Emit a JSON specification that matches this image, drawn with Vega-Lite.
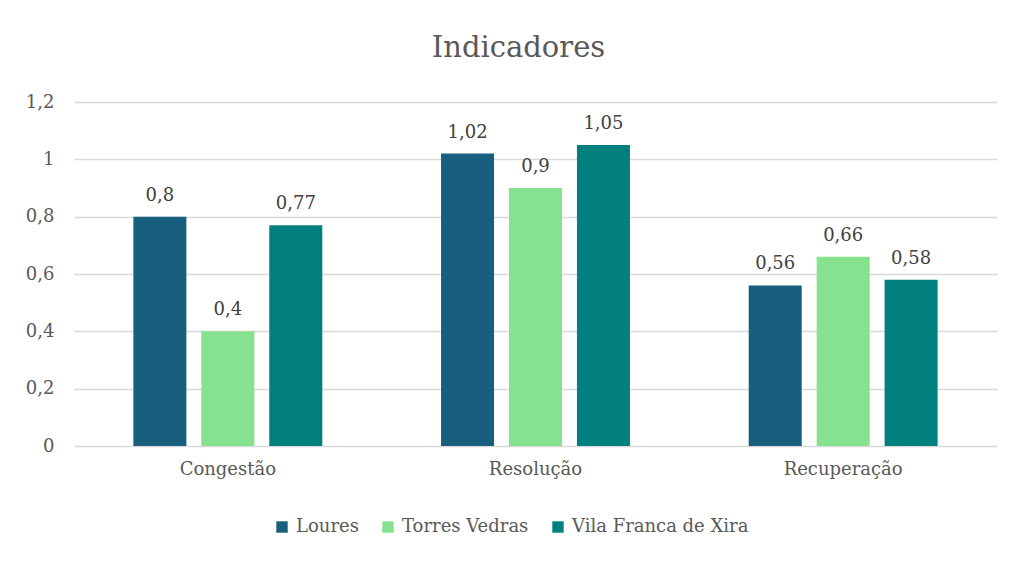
{
  "$schema": "https://vega.github.io/schema/vega-lite/v6.json",
  "width": 923,
  "height": 344,
  "autosize": "none",
  "padding": {"left": 74, "top": 102, "right": 16, "bottom": 115},
  "background": "white",
  "config": {
    "locale": {"number": {"decimal": ",", "thousands": ".", "grouping": [3], "currency": ["", " €"]}},
    "font": "DejaVu Serif",
    "view": {"stroke": null}
  },
  "title": {
    "text": "Indicadores",
    "fontSize": 29,
    "font": "DejaVu Serif",
    "fontWeight": "normal",
    "color": "#595959",
    "anchor": "middle",
    "dx": -17,
    "offset": 30
  },
  "data": {
    "values": [
      {"indicador": "Congestão", "local": "Loures", "valor": 0.8},
      {"indicador": "Congestão", "local": "Torres Vedras", "valor": 0.4},
      {"indicador": "Congestão", "local": "Vila Franca de Xira", "valor": 0.77},
      {"indicador": "Resolução", "local": "Loures", "valor": 1.02},
      {"indicador": "Resolução", "local": "Torres Vedras", "valor": 0.9},
      {"indicador": "Resolução", "local": "Vila Franca de Xira", "valor": 1.05},
      {"indicador": "Recuperação", "local": "Loures", "valor": 0.56},
      {"indicador": "Recuperação", "local": "Torres Vedras", "valor": 0.66},
      {"indicador": "Recuperação", "local": "Vila Franca de Xira", "valor": 0.58}
    ]
  },
  "encoding": {
    "x": {
      "field": "indicador",
      "type": "nominal",
      "sort": ["Congestão", "Resolução", "Recuperação"],
      "scale": {"paddingInner": 0.386, "paddingOuter": 0.193},
      "axis": {
        "title": null,
        "labelAngle": 0,
        "labelFontSize": 18,
        "labelColor": "#595959",
        "labelFont": "DejaVu Serif",
        "labelPadding": 14,
        "labelLimit": 0,
        "ticks": false,
        "domain": false
      }
    },
    "xOffset": {
      "field": "local",
      "type": "nominal",
      "sort": ["Loures", "Torres Vedras", "Vila Franca de Xira"],
      "scale": {"paddingInner": 0.22, "paddingOuter": 0}
    },
    "y": {
      "field": "valor",
      "type": "quantitative",
      "scale": {"domain": [0, 1.2], "nice": false},
      "axis": {
        "title": null,
        "values": [0, 0.2, 0.4, 0.6, 0.8, 1, 1.2],
        "format": "~g",
        "labelFontSize": 18,
        "labelColor": "#595959",
        "labelFont": "DejaVu Serif",
        "labelPadding": 20,
        "ticks": false,
        "domain": false,
        "gridColor": "#d9d9d9",
        "gridWidth": 1.5
      }
    }
  },
  "layer": [
    {
      "mark": {"type": "bar"},
      "encoding": {
        "color": {
          "field": "local",
          "type": "nominal",
          "sort": ["Loures", "Torres Vedras", "Vila Franca de Xira"],
          "scale": {
            "domain": ["Loures", "Torres Vedras", "Vila Franca de Xira"],
            "range": ["#175E7F", "#86E28E", "#007F7F"]
          },
          "legend": {
            "title": null,
            "orient": "none",
            "legendX": 199,
            "legendY": 416,
            "direction": "horizontal",
            "symbolType": "square",
            "symbolSize": 130,
            "symbolStrokeWidth": 0,
            "labelFontSize": 18,
            "labelColor": "#595959",
            "labelFont": "DejaVu Serif",
            "labelLimit": 0,
            "labelOffset": 5,
            "columnPadding": 20
          }
        }
      }
    },
    {
      "mark": {"type": "text", "baseline": "bottom", "dy": -12, "fontSize": 18, "color": "#404040", "font": "DejaVu Serif"},
      "encoding": {
        "text": {"field": "valor", "type": "quantitative", "format": "~g"}
      }
    }
  ]
}
